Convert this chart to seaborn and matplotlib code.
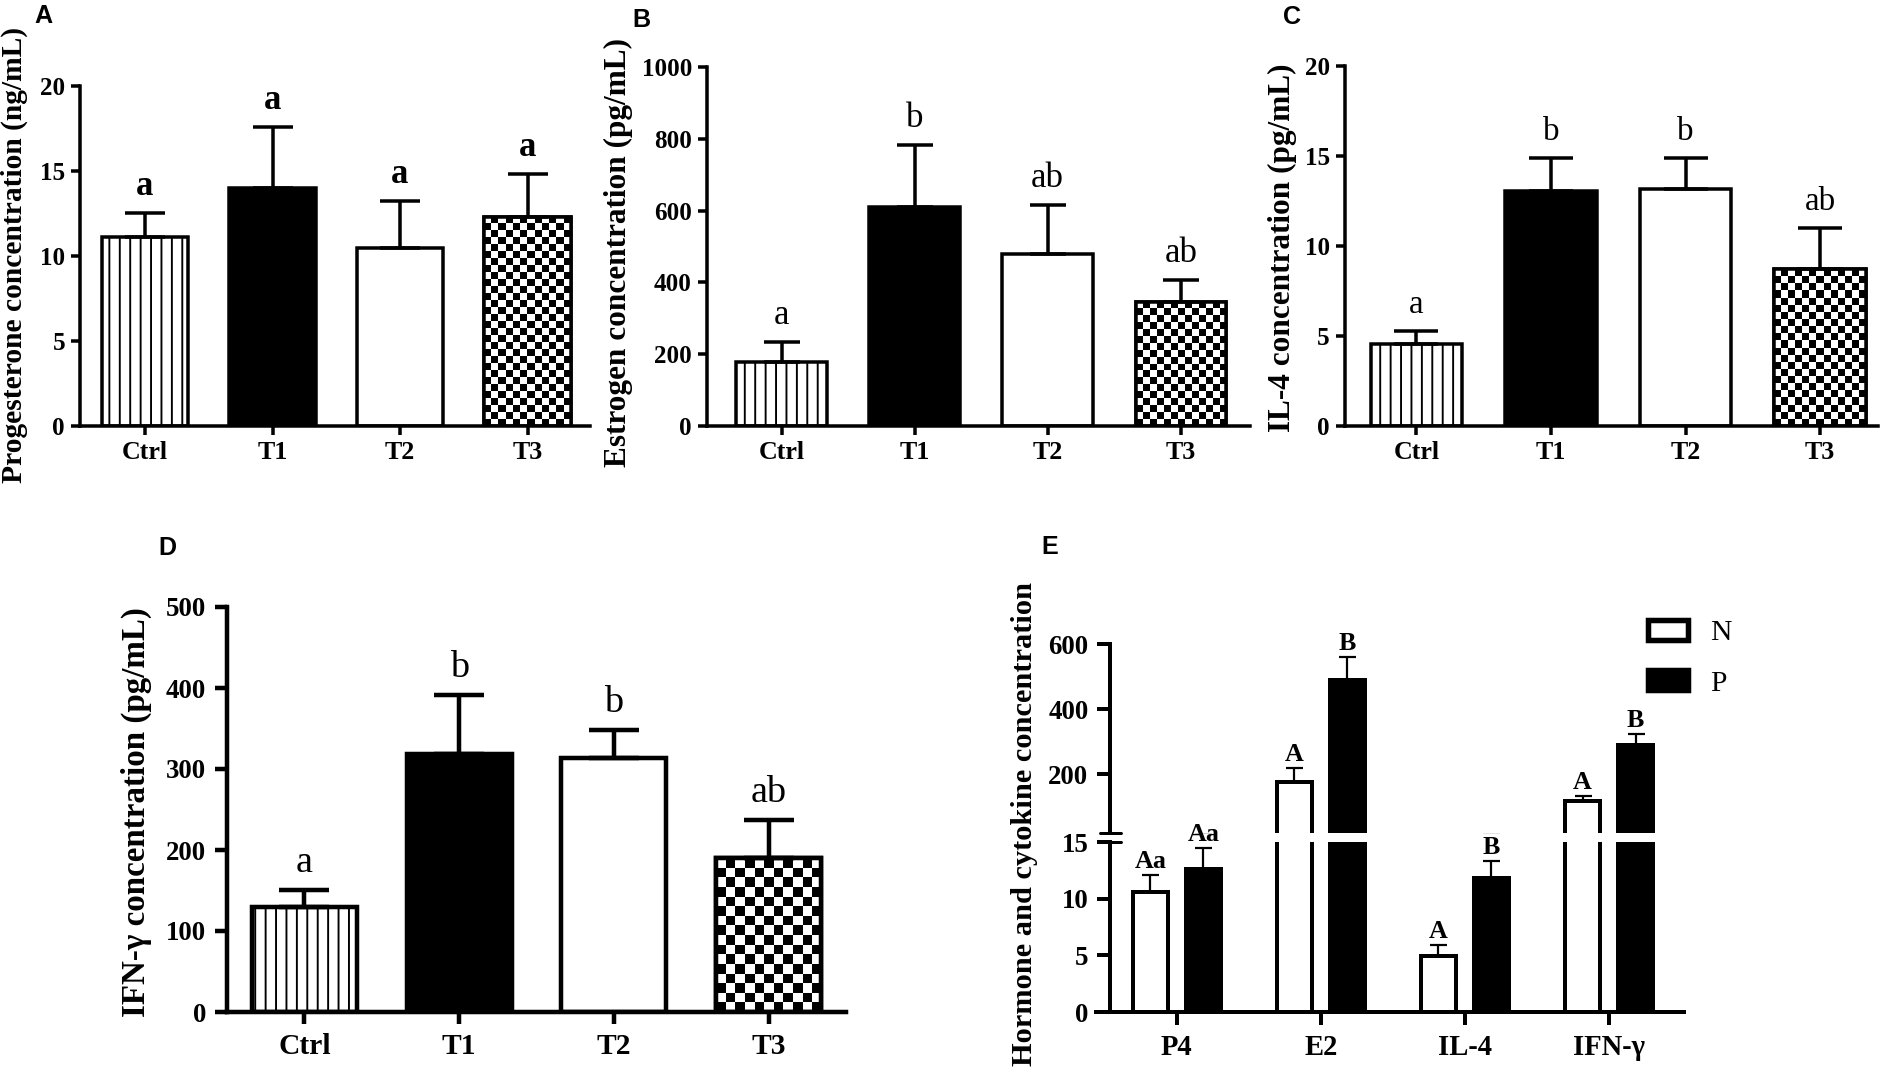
import numpy as np
import pandas as pd
import matplotlib
matplotlib.use("Agg")
import matplotlib.pyplot as plt
from matplotlib.lines import Line2D
from matplotlib.patches import Patch, Rectangle
import seaborn as sns

sns.set_theme(style="white")
plt.rcParams["font.family"] = ["Liberation Serif", "DejaVu Serif"]
plt.rcParams["font.weight"] = "bold"
plt.rcParams["hatch.linewidth"] = 1.1
for k in ("text.color", "axes.labelcolor", "xtick.color", "ytick.color"):
    plt.rcParams[k] = "black"

# values (mean, upper SD bar, letters)
groups = ["Ctrl", "T1", "T2", "T3"]

prog_mean = [11.1, 14.0, 10.5, 12.3]
prog_sd = [1.45, 3.6, 2.75, 2.55]
prog_letters = ["a", "a", "a", "a"]

estr_mean = [179, 611, 478, 346]
estr_sd = [56, 171, 138, 62]
estr_letters = ["a", "b", "ab", "ab"]

il4_mean = [4.54, 13.05, 13.18, 8.72]
il4_sd = [0.74, 1.85, 1.72, 2.28]
il4_letters = ["a", "b", "b", "ab"]

ifn_mean = [129.5, 319, 313, 190]
ifn_sd = [21, 72, 35, 46.6]
ifn_letters = ["a", "b", "b", "ab"]

markers = ["P4", "E2", "IL-4", "IFN-γ"]
status = ["N", "P"]
n_mean = [10.55, 178, 4.95, 117]
n_sd = [1.52, 41, 0.92, 18]
p_mean = [12.64, 489.5, 11.82, 289.5]
p_sd = [1.83, 69.5, 1.48, 33.5]
n_letters = ["Aa", "A", "A", "A"]
p_letters = ["Aa", "B", "B", "B"]

W, H, DPI = 1890, 1089, 125
PT = 72 / DPI  # points per pixel

fig = plt.figure(figsize=(W / DPI, H / DPI), dpi=DPI)


def box(left, right, top, bottom):
    return [left / W, 1 - bottom / H, (right - left) / W, (bottom - top) / H]


def fig_text(x, y, s, **kw):
    fig.text(x / W, 1 - y / H, s, ha="center", va="center", **kw)


def checker_fill(ax, bar, cell):
    bb = bar.get_window_extent()
    nx = max(1, int(round(bb.width / cell)))
    ny = max(1, int(round(bb.height / cell)))
    board = np.indices((ny, nx)).sum(axis=0) % 2
    x0, y0 = bar.get_x(), bar.get_y()
    w, h = bar.get_width(), bar.get_height()
    im = ax.imshow(board, cmap="gray", extent=(x0, x0 + w, y0, y0 + h), origin="lower",
                   aspect="auto", interpolation="nearest", zorder=bar.get_zorder() + 0.01)
    im.set_clip_path(bar)
    ax.add_patch(Rectangle((x0, y0), w, h, fill=False, edgecolor="black",
                           lw=bar.get_linewidth(), zorder=bar.get_zorder() + 0.02))


def style_axis(ax, lw, tick_len, ysize, xsize, pad):
    sns.despine(ax=ax)
    ax.patch.set_visible(False)
    for sp in ("left", "bottom"):
        ax.spines[sp].set_linewidth(lw * PT)
        ax.spines[sp].set_color("black")
    ax.tick_params(axis="both", direction="out", length=tick_len * PT, width=lw * PT,
                   left=True, bottom=True, pad=pad * PT)
    ax.tick_params(axis="y", labelsize=ysize)
    ax.tick_params(axis="x", labelsize=xsize)
    ax.set_xlabel("")
    ax.set_ylabel("")


def group_panel(pos, means, sds, letters, ytop, ystep, xlim, lw, cap, cell,
                letter_size, letter_weight, tick_len, ysize, xsize, pad):
    ax = fig.add_axes(box(*pos))
    df = pd.DataFrame({"group": groups, "value": means})
    sns.barplot(data=df, x="group", y="value", ax=ax, width=0.68, errorbar=None,
                color="white", saturation=1, edgecolor="black", linewidth=lw * PT)
    ax.set_xlim(*xlim)
    ax.set_ylim(0, ytop)
    bars = list(ax.patches)[:4]
    bars[0].set_hatch("||")
    bars[1].set_facecolor("black")
    checker_fill(ax, bars[3], cell)
    ax.set_xlim(*xlim)
    ax.set_ylim(0, ytop)
    xs = [b.get_x() + b.get_width() / 2 for b in bars]
    ax.errorbar(xs, means, yerr=[np.zeros(4), sds], fmt="none", ecolor="black",
                elinewidth=lw * PT, capsize=cap / 2 * PT, capthick=lw * PT, zorder=3)
    for x, m, s, t in zip(xs, means, sds, letters):
        ax.annotate(t, (x, m + s), xytext=(0, 18 * PT), textcoords="offset points",
                    ha="center", va="baseline", fontsize=letter_size, fontweight=letter_weight)
    ax.set_yticks(np.arange(0, ytop + 1e-9, ystep))
    style_axis(ax, lw, tick_len, ysize, xsize, pad)
    return ax


# A
group_panel((80, 590, 86, 426), prog_mean, prog_sd, prog_letters, 20, 5, (-0.51, 3.49),
            3.5, 40, 7, 20, "bold", 9, 14.5, 15, 6)
fig_text(14, 255, "Progesterone concentration (ng/mL)", rotation=90, fontsize=17)
fig_text(43, 16, "A", fontsize=14.5, family="Liberation Sans")

# B
group_panel((707, 1250, 67, 426), estr_mean, estr_sd, estr_letters, 1000, 200, (-0.56, 3.52),
            3.5, 36, 7, 20, "normal", 9, 14.5, 15, 6)
fig_text(618, 253, "Estrogen concentration (pg/mL)", rotation=90, fontsize=18)
fig_text(641, 20, "B", fontsize=14.5, family="Liberation Sans")

# C
group_panel((1345, 1878, 66, 426), il4_mean, il4_sd, il4_letters, 20, 5, (-0.53, 3.43),
            3.5, 44, 7, 19, "normal", 9, 14.5, 15, 6)
fig_text(1282, 248, "IL-4 concentration (pg/mL)", rotation=90, fontsize=18)
fig_text(1292, 17, "C", fontsize=14.5, family="Liberation Sans")

# D
group_panel((227, 846, 607, 1012), ifn_mean, ifn_sd, ifn_letters, 500, 100, (-0.5, 3.5),
            4.5, 50, 9.5, 22, "normal", 12, 15.5, 17, 9)
fig_text(136, 812, "IFN-γ concentration (pg/mL)", rotation=90, fontsize=19)
fig_text(167, 548, "D", fontsize=14.5, family="Liberation Sans")

# E: broken y axis (0-15 below, 20-600 above)
df_e = pd.DataFrame({"marker": markers * 2,
                     "status": [status[0]] * 4 + [status[1]] * 4,
                     "value": n_mean + p_mean})
ax_lo = fig.add_axes(box(1096, 1684, 842, 1012))
ax_hi = fig.add_axes(box(1096, 1684, 644, 833))
for ax, lim, ticks in ((ax_lo, (0, 15), [0, 5, 10, 15]), (ax_hi, (20, 600), [200, 400, 600])):
    sns.barplot(data=df_e, x="marker", y="value", hue="status",
                palette={"N": "white", "P": "black"}, width=0.736, gap=0.34,
                errorbar=None, saturation=1, edgecolor="black", linewidth=4 * PT,
                legend=False, ax=ax)
    ax.set_xlim(-0.56, 3.52)
    ax.set_ylim(*lim)
    for cont, means, sds, letters in zip(ax.containers, (n_mean, p_mean), (n_sd, p_sd),
                                         (n_letters, p_letters)):
        xs = [b.get_x() + b.get_width() / 2 for b in cont]
        ax.errorbar(xs, means, yerr=[np.zeros(4), sds], fmt="none", ecolor="black",
                    elinewidth=2.2 * PT, capsize=8.5 * PT, capthick=2.2 * PT, zorder=3)
        for x, m, s, t in zip(xs, means, sds, letters):
            ax.annotate(t, (x, m + s), xytext=(0, 7 * PT), textcoords="offset points",
                        ha="center", va="baseline", fontsize=15, annotation_clip=True)
    ax.set_yticks(ticks)
    style_axis(ax, 4, 13, 15.5, 16.5, 9)
    ax.spines["left"].set_position(("data", -0.46))

ax_hi.spines["bottom"].set_visible(False)
ax_hi.tick_params(bottom=False, labelbottom=False)

# break marks on the y axis
for yb in (833, 842):
    fig.add_artist(Line2D([1100 / W, 1121 / W], [1 - yb / H, 1 - yb / H],
                          transform=fig.transFigure, color="black", lw=3 * PT))

handles = [Patch(facecolor="white", edgecolor="black", linewidth=5.5 * PT),
           Patch(facecolor="black", edgecolor="black", linewidth=5.5 * PT)]
fig.legend(handles, status, loc="upper left", bbox_to_anchor=(1648 / W, 1 - 620 / H),
           frameon=False, prop={"size": 17, "weight": "normal"}, handlelength=1.36,
           handleheight=0.68, handletextpad=0.75, labelspacing=0.8, borderpad=0,
           borderaxespad=0)

fig_text(1025, 824, "Hormone and cytokine concentration", rotation=90, fontsize=17.5)
fig_text(1050, 547, "E", fontsize=14.5, family="Liberation Sans")

fig.savefig("out.png", dpi=DPI, facecolor="white")
